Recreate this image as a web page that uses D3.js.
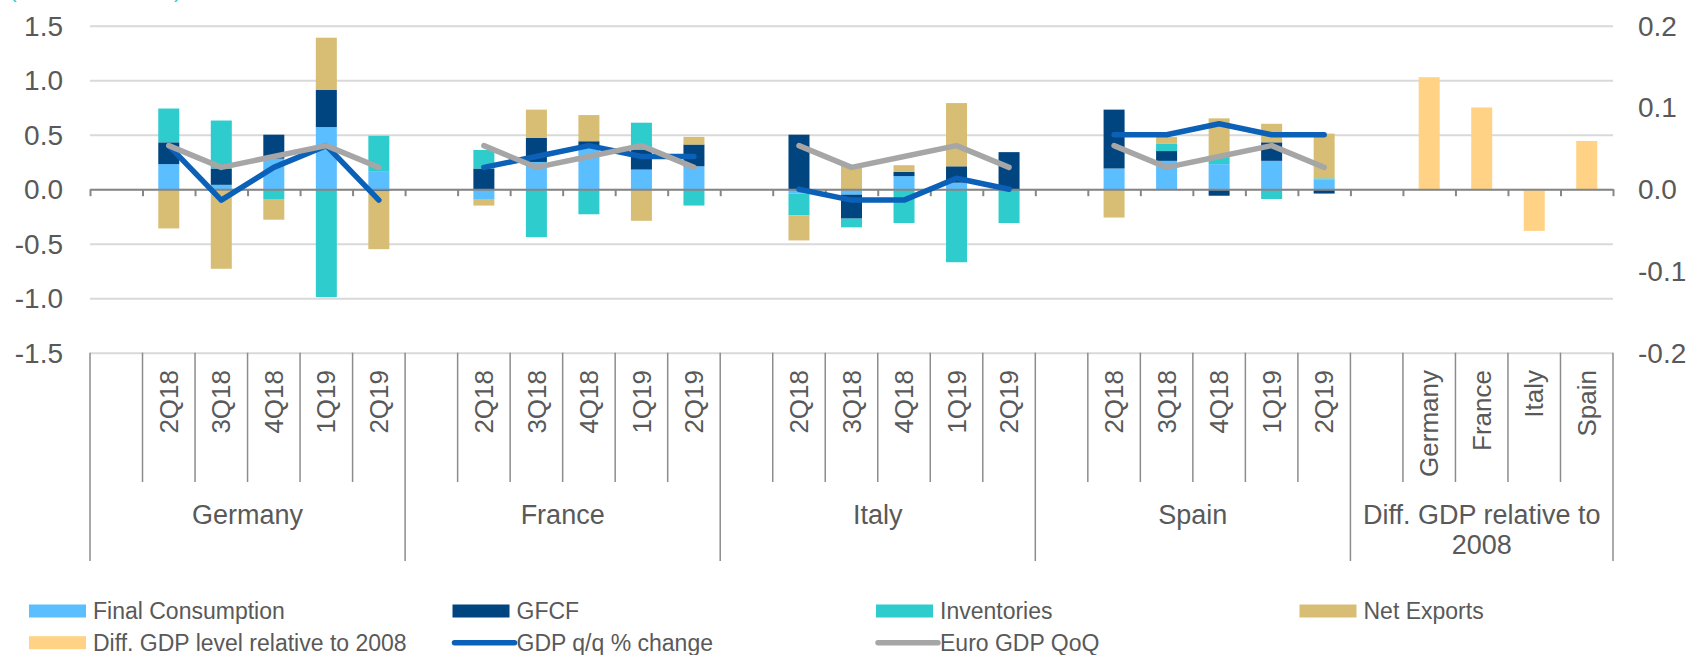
<!DOCTYPE html>
<html>
<head>
<meta charset="utf-8">
<script src="https://cdn.jsdelivr.net/npm/d3@7"></script>
<style>
  body { margin: 0; background: #fff; }
  text { font-family: "Liberation Sans", Arial, sans-serif; fill: #595959; }
</style>
</head>
<body>
<script>
// ---- data ----
var countries = ["Germany", "France", "Italy", "Spain"];
var quarters = ["2Q18", "3Q18", "4Q18", "1Q19", "2Q19"];
var diffGroup = "Diff. GDP relative to 2008";

// contributions, pp (one row per country, one value per quarter)
var finalConsumption = [
    [0.23, 0.04, 0.28, 0.57, 0.16],
    [-0.09, 0.25, 0.39, 0.18, 0.21],
    [-0.04, -0.05, 0.12, 0.06, 0.00],
    [0.19, 0.26, 0.23, 0.26, 0.09]
];
var gfcf = [
    [0.20, 0.15, 0.22, 0.34, -0.02],
    [0.19, 0.22, 0.05, 0.18, 0.20],
    [0.50, -0.22, 0.04, 0.15, 0.34],
    [0.54, 0.09, -0.06, 0.17, -0.04]
];
var inventories = [
    [0.31, 0.44, -0.09, -0.99, 0.33],
    [0.17, -0.44, -0.23, 0.25, -0.15],
    [-0.20, -0.08, -0.31, -0.67, -0.31],
    [0.00, 0.07, 0.07, -0.09, 0.01]
];
var netExports = [
    [-0.36, -0.73, -0.19, 0.48, -0.53],
    [-0.06, 0.26, 0.24, -0.29, 0.07],
    [-0.23, 0.22, 0.06, 0.58, 0.00],
    [-0.26, 0.06, 0.35, 0.17, 0.41]
];
var gdpQoQ = [
    [0.4, -0.1, 0.2, 0.4, -0.1],
    [0.2, 0.3, 0.4, 0.3, 0.3],
    [0.0, -0.1, -0.1, 0.1, 0.0],
    [0.5, 0.5, 0.6, 0.5, 0.5]
];
var euroGdpQoQ = [0.4, 0.2, 0.3, 0.4, 0.2];
// right axis
var diffGdp2008 = [0.137, 0.100, -0.051, 0.059];

var leftTicks = [-1.5, -1.0, -0.5, 0.0, 0.5, 1.0, 1.5];
var rightTicks = [-0.2, -0.1, 0.0, 0.1, 0.2];

var seriesKeys = ["fc", "gfcf", "inv", "nx"];
var seriesNames = {fc: "Final Consumption", gfcf: "GFCF", inv: "Inventories", nx: "Net Exports"};
var colors = {fc: "#5BBEFF", gfcf: "#00457F", inv: "#2ECCCC", nx: "#D8BD75",
              diff: "#FFD285", gdp: "#0B60B8", euro: "#A6A6A6"};

// ---- layout ----
var width = 1693, height = 655;
var plotLeft = 90, plotRight = 1613, plotTop = 25.7, plotBottom = 352.7;

var svg = d3.select("body").append("svg")
    .attr("width", width)
    .attr("height", height)
    .attr("viewBox", "0 0 " + width + " " + height);

// slots: a blank one at the start of each group
var slots = [];
countries.forEach(function(c, ci) {
    slots.push({id: c + "-blank", group: c, label: ""});
    quarters.forEach(function(q, qi) {
        slots.push({id: c + "-" + q, group: c, label: q, ci: ci, qi: qi});
    });
});
slots.push({id: "diff-blank", group: diffGroup, label: ""});
countries.forEach(function(c, i) {
    slots.push({id: "diff-" + c, group: diffGroup, label: c, di: i});
});

var x = d3.scaleBand().domain(slots.map(function(d) { return d.id; })).range([plotLeft, plotRight]);
var xi = d3.scaleLinear().domain([0, slots.length]).range([plotLeft, plotRight]);
var y = d3.scaleLinear().domain([-1.5, 1.5]).range([plotBottom, plotTop]);
var y2 = d3.scaleLinear().domain([-0.2, 0.2]).range([plotBottom, plotTop]);
var barW = x.bandwidth() * 0.4;

// teal title, cut off at the top edge
svg.append("text").attr("x", 9).attr("y", -3.5)
    .style("font-size", "23px").style("fill", "#33CCCC")
    .text("(% contributions)");

// gridlines
svg.append("g")
    .attr("transform", "translate(" + plotLeft + ",0)")
    .call(d3.axisLeft(y).tickValues(leftTicks).tickSize(-(plotRight - plotLeft)).tickFormat(""))
    .call(function(g) {
        g.select(".domain").remove();
        g.selectAll("line").attr("stroke", "#D9D9D9").attr("stroke-width", 2);
    });

// left axis labels
svg.append("g").selectAll("text").data(leftTicks).join("text")
    .attr("x", 63).attr("y", function(d) { return y(d); }).attr("dy", "0.35em")
    .attr("text-anchor", "end").style("font-size", "28px")
    .text(function(d) { return d.toFixed(1); });

// right axis labels
svg.append("g").selectAll("text").data(rightTicks).join("text")
    .attr("x", 1638).attr("y", function(d) { return y2(d); }).attr("dy", "0.35em")
    .attr("text-anchor", "start").style("font-size", "28px")
    .text(function(d) { return d.toFixed(1); });

// stacked contributions
var rows = slots.filter(function(s) { return s.ci !== undefined; }).map(function(s) {
    return {id: s.id, fc: finalConsumption[s.ci][s.qi], gfcf: gfcf[s.ci][s.qi],
            inv: inventories[s.ci][s.qi], nx: netExports[s.ci][s.qi]};
});
var stacked = d3.stack().keys(seriesKeys).offset(d3.stackOffsetDiverging)(rows);

svg.append("g").selectAll("g").data(stacked).join("g")
    .attr("fill", function(d) { return colors[d.key]; })
    .selectAll("rect").data(function(d) { return d; }).join("rect")
    .attr("x", function(d) { return x(d.data.id) + (x.bandwidth() - barW) / 2; })
    .attr("width", barW)
    .attr("y", function(d) { return y(Math.max(d[0], d[1])); })
    .attr("height", function(d) { return Math.abs(y(d[0]) - y(d[1])); });

// diff GDP bars (right axis)
var diffSlots = slots.filter(function(s) { return s.di !== undefined; });
svg.append("g").selectAll("rect").data(diffSlots).join("rect")
    .attr("fill", colors.diff)
    .attr("x", function(d) { return x(d.id) + (x.bandwidth() - barW) / 2; })
    .attr("width", barW)
    .attr("y", function(d) { return y2(Math.max(0, diffGdp2008[d.di])); })
    .attr("height", function(d) { return Math.abs(y2(diffGdp2008[d.di]) - y2(0)); });

// zero axis with ticks at every slot boundary
svg.append("g")
    .attr("transform", "translate(0," + y(0) + ")")
    .call(d3.axisBottom(xi).tickValues(d3.range(slots.length + 1)).tickSize(7).tickFormat("").tickSizeOuter(0))
    .call(function(g) {
        g.select(".domain").attr("stroke", "#868686").attr("stroke-width", 2);
        g.selectAll(".tick line").attr("stroke", "#868686").attr("stroke-width", 2);
    });

// lines, one piece per country
var line = d3.line()
    .x(function(d) { return x(d.id) + x.bandwidth() / 2; })
    .y(function(d) { return y(d.v); });

function drawLines(values, color) {
    countries.forEach(function(c, ci) {
        var pts = quarters.map(function(q, qi) {
            return {id: c + "-" + q, v: values(ci, qi)};
        });
        svg.append("path").datum(pts)
            .attr("fill", "none").attr("stroke", color).attr("stroke-width", 5.5)
            .attr("stroke-linecap", "round").attr("stroke-linejoin", "round")
            .attr("d", line);
    });
}
drawLines(function(ci, qi) { return gdpQoQ[ci][qi]; }, colors.gdp);
drawLines(function(ci, qi) { return euroGdpQoQ[qi]; }, colors.euro);

// category axis below the plot
var sepColor = "#8C8C8C";
var cat = svg.append("g");
d3.range(slots.length + 1).forEach(function(i) {
    var groupEdge = i === slots.length || slots[i].label === "";
    cat.append("line")
        .attr("x1", xi(i)).attr("x2", xi(i))
        .attr("y1", plotBottom).attr("y2", groupEdge ? 561 : 482)
        .attr("stroke", sepColor).attr("stroke-width", 1.5);
});

cat.selectAll("text.q").data(slots.filter(function(s) { return s.label !== ""; })).join("text")
    .attr("class", "q")
    .attr("transform", function(d) {
        return "translate(" + (x(d.id) + x.bandwidth() / 2) + ",370) rotate(-90)";
    })
    .attr("dy", "0.35em").attr("text-anchor", "end").style("font-size", "26px")
    .text(function(d) { return d.label; });

var groups = countries.concat([diffGroup]);
groups.forEach(function(g) {
    var members = slots.filter(function(s) { return s.group === g; });
    var x0 = x(members[0].id), x1 = x(members[members.length - 1].id) + x.bandwidth();
    var t = cat.append("text")
        .attr("x", (x0 + x1) / 2).attr("y", 515).attr("dy", "0.35em")
        .attr("text-anchor", "middle").style("font-size", "27px");
    if (g === diffGroup) {
        t.append("tspan").attr("x", (x0 + x1) / 2).text("Diff. GDP relative to");
        t.append("tspan").attr("x", (x0 + x1) / 2).attr("dy", "1.08em").text("2008");
    } else {
        t.text(g);
    }
});

// legend
var legendItems = [
    {name: seriesNames.fc, color: colors.fc, type: "rect"},
    {name: seriesNames.gfcf, color: colors.gfcf, type: "rect"},
    {name: seriesNames.inv, color: colors.inv, type: "rect"},
    {name: seriesNames.nx, color: colors.nx, type: "rect"},
    {name: "Diff. GDP level relative to 2008", color: colors.diff, type: "rect"},
    {name: "GDP q/q % change", color: colors.gdp, type: "line"},
    {name: "Euro GDP QoQ", color: colors.euro, type: "line"}
];
var legend = svg.append("g").selectAll("g").data(legendItems).join("g")
    .attr("transform", function(d, i) {
        return "translate(" + (29 + (i % 4) * 423.5) + "," + (611 + Math.floor(i / 4) * 31.7) + ")";
    });
legend.each(function(d) {
    var g = d3.select(this);
    if (d.type === "rect") {
        g.append("rect").attr("x", 0).attr("y", -6.5).attr("width", 57).attr("height", 13).attr("fill", d.color);
    } else {
        g.append("line").attr("x1", 2).attr("x2", 62).attr("y1", 0).attr("y2", 0)
            .attr("stroke", d.color).attr("stroke-width", 5.5).attr("stroke-linecap", "round");
    }
    g.append("text").attr("x", 64).attr("dy", "0.35em").style("font-size", "23px").text(d.name);
});
</script>
</body>
</html>
